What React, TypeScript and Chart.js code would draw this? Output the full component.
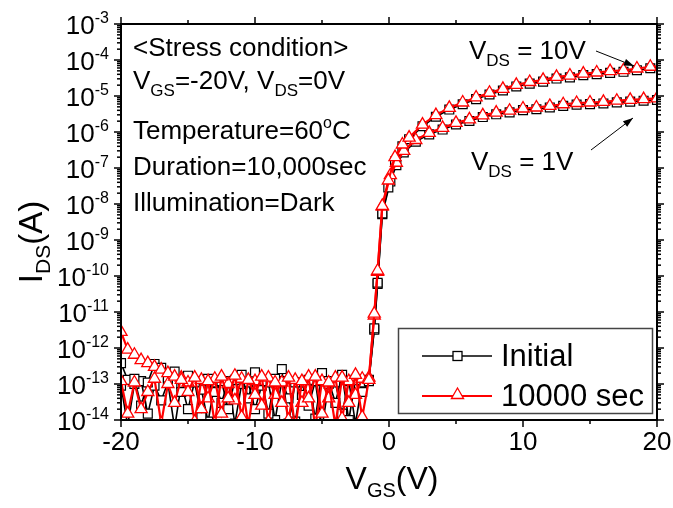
import React, { useEffect, useRef } from 'react';
import { Chart, registerables } from 'chart.js';

Chart.register(...registerables);

const FONT = '"Liberation Sans", Arial, sans-serif';

// ---- axis ticks ----
const X_MAJOR = [-20, -10, 0, 10, 20];
const X_MINOR = [-15, -5, 5, 15];
const Y_EXPONENTS = [-3, -4, -5, -6, -7, -8, -9, -10, -11, -12, -13, -14];

// ---- data: VGS grids ----
const vgsNoise = [
  -20, -19.5, -19, -18.5, -18, -17.5, -17, -16.5, -16, -15.5, -15, -14.5, -14, -13.5, -13, -12.5,
  -12, -11.5, -11, -10.5, -10, -9.5, -9, -8.5, -8, -7.5, -7, -6.5, -6, -5.5, -5, -4.5, -4, -3.5,
  -3, -2.5, -2, -1.5,
];
const vgsOn10 = [
  -1.1, -0.85, -0.5, -0.05, 0.45, 1, 1.5, 2.5, 3.5, 4.5, 5.5, 6.5, 7.5, 8.5, 9.5, 10.5, 11.5, 12.5,
  13.5, 14.5, 15.5, 16.5, 17.5, 18.5, 19.5, 20,
];
const vgsOn1 = [
  -1.1, -0.85, -0.5, 0.1, 0.55, 1.1, 2, 3, 4, 5, 6, 7, 8, 9, 10, 11, 12, 13, 14, 15, 16, 17, 18, 19, 20,
];

// ---- Initial (black) ----
const initial10Noise = [
  3.8e-13, 1.3e-13, 1.4e-13, 2.5e-14, 1.1e-13, 3.6e-13, 2.8e-13, 1.5e-13, 2.2e-13, 6e-14,
  1.7e-13, 1.1e-13, 1.2e-14, 1.4e-13, 6e-14, 1.2e-13, 2e-14, 1.3e-13, 1.8e-13, 4e-14,
  2.1e-13, 1.2e-13, 1.5e-14, 1.4e-13, 2.6e-13, 8e-15, 1.1e-13, 5e-14, 1.3e-13, 1.1e-14,
  2e-13, 1.2e-13, 3e-14, 1.8e-13, 1e-14, 1.3e-13, 6e-14, 1.2e-13,
];
const initial10On = [
  3.5e-12, 6.5e-11, 5.5e-9, 2.9e-8, 1.5e-7, 4e-7, 6.3e-7, 1.45e-6, 2.65e-6, 4.2e-6, 5.9e-6, 8.2e-6,
  1.1e-5, 1.42e-5, 1.84e-5, 2.2e-5, 2.5e-5, 3.05e-5, 3.3e-5, 3.8e-5, 4.05e-5, 4.4e-5, 4.7e-5,
  5.2e-5, 5.9e-5, 6.1e-5,
];
const initial1Noise = [
  9e-14, 7e-15, 1e-13, 1.2e-13, 1.5e-14, 9e-14, 3.5e-14, 1.1e-13, 6e-15, 1e-13,
  2e-14, 1.2e-13, 7e-14, 9e-15, 1.1e-13, 3e-14, 1.2e-13, 8e-15, 1e-13, 1.1e-13,
  2e-14, 9e-14, 1.1e-13, 1e-14, 1.2e-13, 4e-14, 9e-15, 1.1e-13, 2.5e-14, 1.2e-13,
  6e-15, 1e-13, 1.1e-13, 1.5e-14, 1.2e-13, 8e-15, 1.1e-13, 1.3e-13,
];
const initial1On = [
  3.2e-12, 6e-11, 5.2e-9, 4.2e-8, 1.2e-7, 2.7e-7, 5.4e-7, 8.6e-7, 1.17e-6, 1.62e-6, 2.03e-6, 2.6e-6,
  3.1e-6, 3.5e-6, 4.05e-6, 4.3e-6, 4.8e-6, 5.3e-6, 5.75e-6, 5.95e-6, 6.2e-6, 6.65e-6, 7e-6, 7.4e-6,
  7.75e-6,
];

// ---- 10000 sec (red) ----
const stress10Noise = [
  2.8e-12, 9e-13, 6.5e-13, 4.6e-13, 3.8e-13, 3e-13, 2.5e-13, 2e-13, 1.6e-13, 1.3e-13,
  6e-14, 1.5e-13, 2e-14, 1.2e-13, 8e-15, 1.6e-13, 4e-14, 1.7e-13, 1.2e-14, 1.3e-13,
  5e-14, 1.6e-13, 9e-15, 1.1e-13, 3e-14, 1.5e-13, 6e-15, 1.2e-13, 4e-14, 1.6e-13,
  1.5e-14, 1.1e-13, 7e-15, 1.5e-13, 3e-14, 1.8e-13, 1.2e-14, 1.3e-13,
];
const stress10On = [
  9e-12, 1.4e-10, 8.9e-9, 4.5e-8, 2e-7, 4.5e-7, 7e-7, 1.6e-6, 2.95e-6, 4.7e-6, 6.6e-6, 9.1e-6,
  1.23e-5, 1.58e-5, 2.04e-5, 2.45e-5, 2.8e-5, 3.4e-5, 3.7e-5, 4.2e-5, 4.5e-5, 4.9e-5, 5.2e-5,
  5.8e-5, 6.5e-5, 6.7e-5,
];
const stress1Noise = [
  1.2e-13, 1.5e-14, 1.1e-13, 2e-14, 6e-14, 1.4e-13, 8e-15, 1e-13, 3e-14, 1.5e-13,
  1.1e-13, 9e-15, 1.3e-13, 4e-14, 1.4e-13, 1.5e-14, 1e-13, 3.5e-14, 1.4e-13, 7e-15,
  1.2e-13, 2.5e-14, 1.5e-13, 5e-14, 1.1e-13, 1e-14, 1.3e-13, 3e-14, 1.6e-13, 6e-15,
  1.2e-13, 4e-14, 1.5e-13, 1.1e-14, 1.2e-13, 5e-14, 1.4e-13, 1.5e-13,
];
const stress1On = [
  8e-12, 1.3e-10, 8.5e-9, 6.3e-8, 1.4e-7, 3e-7, 6e-7, 9.5e-7, 1.3e-6, 1.8e-6, 2.25e-6, 2.9e-6,
  3.45e-6, 3.9e-6, 4.5e-6, 4.8e-6, 5.3e-6, 5.9e-6, 6.4e-6, 6.6e-6, 6.9e-6, 7.4e-6, 7.8e-6, 8.2e-6,
  8.6e-6,
];

const LEGEND = ['Initial', '10000 sec'];

type Part = { t: string; size: number; dy?: number };

function richWidth(ctx: CanvasRenderingContext2D, parts: Part[]) {
  let w = 0;
  for (const p of parts) {
    ctx.font = `${p.size}px ${FONT}`;
    w += ctx.measureText(p.t).width;
  }
  return w;
}

function drawRich(ctx: CanvasRenderingContext2D, x: number, y: number, parts: Part[]) {
  let cx = x;
  ctx.textAlign = 'left';
  ctx.textBaseline = 'alphabetic';
  for (const p of parts) {
    ctx.font = `${p.size}px ${FONT}`;
    ctx.fillText(p.t, cx, y + (p.dy || 0));
    cx += ctx.measureText(p.t).width;
  }
}

function line(ctx: CanvasRenderingContext2D, x1: number, y1: number, x2: number, y2: number) {
  ctx.beginPath();
  ctx.moveTo(x1, y1);
  ctx.lineTo(x2, y2);
  ctx.stroke();
}

function arrow(ctx: CanvasRenderingContext2D, x1: number, y1: number, x2: number, y2: number) {
  ctx.lineWidth = 1;
  line(ctx, x1, y1, x2, y2);
  const a = Math.atan2(y2 - y1, x2 - x1);
  const L = 10, W = 3.5;
  ctx.beginPath();
  ctx.moveTo(x2, y2);
  ctx.lineTo(x2 - L * Math.cos(a) + W * Math.sin(a), y2 - L * Math.sin(a) - W * Math.cos(a));
  ctx.lineTo(x2 - L * Math.cos(a) - W * Math.sin(a), y2 - L * Math.sin(a) + W * Math.cos(a));
  ctx.closePath();
  ctx.fill();
}

function tri(ctx: CanvasRenderingContext2D, x: number, y: number, r: number) {
  ctx.beginPath();
  for (let i = 0; i < 3; i++) {
    const a = -Math.PI / 2 + (i * 2 * Math.PI) / 3;
    const px = x + r * Math.cos(a), py = y + r * Math.sin(a);
    if (i === 0) ctx.moveTo(px, py); else ctx.lineTo(px, py);
  }
  ctx.closePath();
}

const overlay = {
  id: 'overlay',
  afterDraw(chart: any) {
    const ctx: CanvasRenderingContext2D = chart.ctx;
    const { left, right, top, bottom } = chart.chartArea;
    const xs = chart.scales.x, ys = chart.scales.y;
    ctx.save();
    ctx.strokeStyle = '#000';
    ctx.fillStyle = '#000';
    ctx.lineWidth = 2;
    ctx.strokeRect(left, top, right - left, bottom - top);

    // x ticks
    ctx.lineWidth = 1.5;
    for (const v of X_MAJOR) {
      const px = xs.getPixelForValue(v);
      line(ctx, px, bottom, px, bottom + 7);
      line(ctx, px, top, px, top - 7);
    }
    for (const v of X_MINOR) {
      const px = xs.getPixelForValue(v);
      line(ctx, px, bottom, px, bottom + 4);
      line(ctx, px, top, px, top - 4);
    }
    // y ticks
    for (const e of Y_EXPONENTS) {
      for (let m = 1; m <= 9; m++) {
        const v = m * Math.pow(10, e);
        if (v > 1.0001e-3) continue;
        const py = ys.getPixelForValue(v);
        const len = m === 1 ? 7 : 4;
        line(ctx, left - len, py, left, py);
        line(ctx, right, py, right + len, py);
      }
    }

    // x tick labels
    ctx.font = `26px ${FONT}`;
    ctx.textAlign = 'center';
    ctx.textBaseline = 'alphabetic';
    for (const v of X_MAJOR) {
      ctx.fillText(String(v), xs.getPixelForValue(v), 450);
    }
    // y tick labels 10^e
    for (const e of Y_EXPONENTS) {
      const py = ys.getPixelForValue(Math.pow(10, e));
      ctx.font = `16px ${FONT}`;
      const sup = String(e);
      const sw = ctx.measureText(sup).width;
      const rx = 109;
      ctx.textAlign = 'left';
      ctx.fillText(sup, rx - sw, py - 1);
      ctx.font = `26px ${FONT}`;
      ctx.textAlign = 'right';
      ctx.fillText('10', rx - sw, py + 10);
    }

    // axis titles
    const xt: Part[] = [{ t: 'V', size: 32 }, { t: 'GS', size: 20, dy: 8 }, { t: '(V)', size: 32 }];
    const xw = richWidth(ctx, xt);
    drawRich(ctx, (left + right) / 2 - xw / 2 + 3, 489, xt);
    const yt: Part[] = [{ t: 'I', size: 33 }, { t: 'DS', size: 21, dy: 8 }, { t: '(A)', size: 33 }];
    const yw = richWidth(ctx, yt);
    ctx.save();
    ctx.translate(42, 242);
    ctx.rotate(-Math.PI / 2);
    drawRich(ctx, -yw / 2, 0, yt);
    ctx.restore();

    // annotations
    drawRich(ctx, 133, 56, [{ t: '<Stress condition>', size: 26 }]);
    drawRich(ctx, 133, 89, [
      { t: 'V', size: 26 }, { t: 'GS', size: 17, dy: 7 }, { t: '=-20V, V', size: 26 },
      { t: 'DS', size: 17, dy: 7 }, { t: '=0V', size: 26 },
    ]);
    drawRich(ctx, 133, 139, [
      { t: 'Temperature=60', size: 26 }, { t: 'o', size: 16, dy: -11 }, { t: 'C', size: 26 },
    ]);
    drawRich(ctx, 133, 175, [{ t: 'Duration=10,000sec', size: 26 }]);
    drawRich(ctx, 133, 211, [{ t: 'Illumination=Dark', size: 26 }]);
    drawRich(ctx, 469, 59, [{ t: 'V', size: 26 }, { t: 'DS', size: 17, dy: 7 }, { t: ' = 10V', size: 26 }]);
    drawRich(ctx, 471, 170, [{ t: 'V', size: 26 }, { t: 'DS', size: 17, dy: 7 }, { t: ' = 1V', size: 26 }]);
    arrow(ctx, 596, 51, 634, 66);
    arrow(ctx, 591, 150, 633, 118);

    // legend
    ctx.fillStyle = '#fff';
    ctx.fillRect(398.5, 328.5, 254, 85);
    ctx.strokeStyle = '#444';
    ctx.lineWidth = 1.5;
    ctx.strokeRect(398.5, 328.5, 254, 85);
    // Initial
    ctx.strokeStyle = '#000';
    ctx.lineWidth = 1.5;
    line(ctx, 422, 356, 492, 356);
    ctx.fillStyle = '#fff';
    ctx.fillRect(453, 351.5, 9, 9);
    ctx.lineWidth = 1.3;
    ctx.strokeRect(453, 351.5, 9, 9);
    // 10000 sec
    ctx.strokeStyle = '#ff0000';
    ctx.lineWidth = 2;
    line(ctx, 422, 396, 492, 396);
    tri(ctx, 457.5, 395, 7);
    ctx.fillStyle = '#fff';
    ctx.fill();
    ctx.lineWidth = 1.3;
    ctx.stroke();
    ctx.fillStyle = '#000';
    ctx.font = `31px ${FONT}`;
    ctx.textAlign = 'left';
    ctx.textBaseline = 'middle';
    ctx.fillText(LEGEND[0], 501, 357);
    ctx.fillText(LEGEND[1], 501, 397);
    ctx.restore();
  },
};

function pts(xs: number[], ys: number[]) {
  return xs.map((x, i) => ({ x, y: ys[i] }));
}

export default function App() {
  const ref = useRef<HTMLCanvasElement | null>(null);
  useEffect(() => {
    if (!ref.current) return;
    const SQ = 6.3, TR = 7;
    const black = (data: any[], hideLast: boolean) => ({
      data,
      borderColor: '#000',
      borderWidth: 1.6,
      pointStyle: 'rect',
      pointRadius: (c: any) => (hideLast && c.dataIndex === data.length - 1 ? 0 : SQ),
      pointBorderWidth: 1.2,
      pointBackgroundColor: '#fff',
      pointBorderColor: '#000',
      tension: 0,
    });
    const red = (data: any[], hideLast: boolean) => ({
      data,
      borderColor: '#ff0000',
      borderWidth: 2.2,
      pointStyle: 'triangle',
      pointRadius: (c: any) => (hideLast && c.dataIndex === data.length - 1 ? 0 : TR),
      pointBorderWidth: 1.3,
      pointBackgroundColor: '#fff',
      pointBorderColor: '#ff0000',
      tension: 0,
    });
    const s10 = pts([...vgsNoise, ...vgsOn10], [...stress10Noise, ...stress10On]);
    const s1 = pts([...vgsNoise, ...vgsOn1], [...stress1Noise, ...stress1On]);
    const i10 = pts([...vgsNoise, ...vgsOn10], [...initial10Noise, ...initial10On]);
    const i1 = pts([...vgsNoise, ...vgsOn1], [...initial1Noise, ...initial1On]);
    const chart = new Chart(ref.current, {
      type: 'line',
      data: {
        datasets: [
          { label: LEGEND[1] + ' 10V', ...red(s10, true) } as any,
          { label: LEGEND[1] + ' 1V', ...red(s1, false) } as any,
          { label: LEGEND[0] + ' 10V', ...black(i10, true) } as any,
          { label: LEGEND[0] + ' 1V', ...black(i1, false) } as any,
        ],
      },
      options: {
        animation: false,
        responsive: false,
        devicePixelRatio: 1,
        layout: { padding: { top: 24, right: 16, left: 0, bottom: 0 } },
        plugins: { legend: { display: false }, tooltip: { enabled: false } },
        scales: {
          x: {
            type: 'linear',
            min: -20,
            max: 20,
            ticks: { display: false },
            grid: { display: false },
            border: { display: false },
            afterFit: (s: any) => { s.height = 88; },
          },
          y: {
            type: 'logarithmic',
            min: 1e-14,
            max: 1e-3,
            ticks: { display: false },
            grid: { display: false },
            border: { display: false },
            afterFit: (s: any) => { s.width = 121; },
          },
        },
      },
      plugins: [overlay],
    });
    return () => chart.destroy();
  }, []);
  return (
    <div style={{ position: 'absolute', left: 0, top: 0, width: 673, height: 508, background: '#fff' }}>
      <canvas ref={ref} width={673} height={508} />
    </div>
  );
}
